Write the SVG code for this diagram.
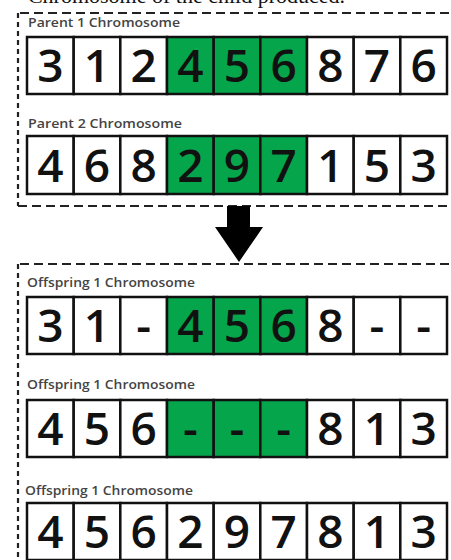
<svg xmlns="http://www.w3.org/2000/svg" width="451" height="560" viewBox="0 0 451 560">
<style>
.cell{fill:#fff;stroke:#111;stroke-width:2.5}
.g{fill:#05a64b}
.d{font-family:"Open Sans","Liberation Sans",sans-serif;font-size:46px;font-weight:600;fill:#111;text-anchor:middle}
.lbl{font-family:"Open Sans","Liberation Sans",sans-serif;font-size:12.5px;font-weight:600;fill:#444}
.dash{fill:none;stroke:#222;stroke-width:2.2}
</style>
<rect width="451" height="560" fill="#fff"/>
<text x="345" y="2.5" text-anchor="end" font-family="Liberation Serif, serif" font-size="22" fill="#111">Chromosome of the child produced.</text>
<g id="frames">
<path class="dash" d="M20 13 H451" stroke-dasharray="9,5"/>
<path class="dash" d="M18 13 V206" stroke-dasharray="5,4"/>
<path class="dash" d="M18 206 H451" stroke-dasharray="9,5"/>
<path class="dash" d="M20 264 H451" stroke-dasharray="9,5"/>
<path class="dash" d="M18 264 V560" stroke-dasharray="5,4"/>
</g>
<g id="connectors">
<polygon points="227,206 250,206 250,227 263,227 239,262 215,227 227,227" fill="#000"/>
</g>
<g id="parent1">
<text class="lbl" x="28" y="27" textLength="152" lengthAdjust="spacingAndGlyphs">Parent 1 Chromosome</text>
<rect class="cell" x="27" y="37" width="46.7" height="57"/>
<rect class="cell" x="73.7" y="37" width="46.7" height="57"/>
<rect class="cell" x="120.3" y="37" width="46.7" height="57"/>
<rect class="cell g" x="167" y="37" width="46.7" height="57"/>
<rect class="cell g" x="213.7" y="37" width="46.7" height="57"/>
<rect class="cell g" x="260.3" y="37" width="46.7" height="57"/>
<rect class="cell" x="307" y="37" width="46.7" height="57"/>
<rect class="cell" x="353.7" y="37" width="46.7" height="57"/>
<rect class="cell" x="400.3" y="37" width="46.7" height="57"/>
<text class="d" y="82"><tspan x="50.3">3</tspan><tspan x="97">1</tspan><tspan x="143.7">2</tspan><tspan x="190.3">4</tspan><tspan x="237">5</tspan><tspan x="283.7">6</tspan><tspan x="330.3">8</tspan><tspan x="377">7</tspan><tspan x="423.7">6</tspan></text>
</g>
<g id="parent2">
<text class="lbl" x="28" y="128" textLength="154" lengthAdjust="spacingAndGlyphs">Parent 2 Chromosome</text>
<rect class="cell" x="27" y="136" width="46.7" height="58"/>
<rect class="cell" x="73.7" y="136" width="46.7" height="58"/>
<rect class="cell" x="120.3" y="136" width="46.7" height="58"/>
<rect class="cell g" x="167" y="136" width="46.7" height="58"/>
<rect class="cell g" x="213.7" y="136" width="46.7" height="58"/>
<rect class="cell g" x="260.3" y="136" width="46.7" height="58"/>
<rect class="cell" x="307" y="136" width="46.7" height="58"/>
<rect class="cell" x="353.7" y="136" width="46.7" height="58"/>
<rect class="cell" x="400.3" y="136" width="46.7" height="58"/>
<text class="d" y="181.5"><tspan x="50.3">4</tspan><tspan x="97">6</tspan><tspan x="143.7">8</tspan><tspan x="190.3">2</tspan><tspan x="237">9</tspan><tspan x="283.7">7</tspan><tspan x="330.3">1</tspan><tspan x="377">5</tspan><tspan x="423.7">3</tspan></text>
</g>
<g id="offspring1">
<text class="lbl" x="27" y="287" textLength="168" lengthAdjust="spacingAndGlyphs">Offspring 1 Chromosome</text>
<rect class="cell" x="27" y="297" width="46.7" height="57"/>
<rect class="cell" x="73.7" y="297" width="46.7" height="57"/>
<rect class="cell" x="120.3" y="297" width="46.7" height="57"/>
<rect class="cell g" x="167" y="297" width="46.7" height="57"/>
<rect class="cell g" x="213.7" y="297" width="46.7" height="57"/>
<rect class="cell g" x="260.3" y="297" width="46.7" height="57"/>
<rect class="cell" x="307" y="297" width="46.7" height="57"/>
<rect class="cell" x="353.7" y="297" width="46.7" height="57"/>
<rect class="cell" x="400.3" y="297" width="46.7" height="57"/>
<text class="d" y="342"><tspan x="50.3">3</tspan><tspan x="97">1</tspan><tspan x="143.7">-</tspan><tspan x="190.3">4</tspan><tspan x="237">5</tspan><tspan x="283.7">6</tspan><tspan x="330.3">8</tspan><tspan x="377">-</tspan><tspan x="423.7">-</tspan></text>
</g>
<g id="offspring2">
<text class="lbl" x="27" y="389" textLength="168" lengthAdjust="spacingAndGlyphs">Offspring 1 Chromosome</text>
<rect class="cell" x="27" y="400" width="46.7" height="57"/>
<rect class="cell" x="73.7" y="400" width="46.7" height="57"/>
<rect class="cell" x="120.3" y="400" width="46.7" height="57"/>
<rect class="cell g" x="167" y="400" width="46.7" height="57"/>
<rect class="cell g" x="213.7" y="400" width="46.7" height="57"/>
<rect class="cell g" x="260.3" y="400" width="46.7" height="57"/>
<rect class="cell" x="307" y="400" width="46.7" height="57"/>
<rect class="cell" x="353.7" y="400" width="46.7" height="57"/>
<rect class="cell" x="400.3" y="400" width="46.7" height="57"/>
<text class="d" y="445"><tspan x="50.3">4</tspan><tspan x="97">5</tspan><tspan x="143.7">6</tspan><tspan x="190.3">-</tspan><tspan x="237">-</tspan><tspan x="283.7">-</tspan><tspan x="330.3">8</tspan><tspan x="377">1</tspan><tspan x="423.7">3</tspan></text>
</g>
<g id="offspring3">
<text class="lbl" x="25" y="495" textLength="168" lengthAdjust="spacingAndGlyphs">Offspring 1 Chromosome</text>
<rect class="cell" x="27" y="503" width="46.7" height="57"/>
<rect class="cell" x="73.7" y="503" width="46.7" height="57"/>
<rect class="cell" x="120.3" y="503" width="46.7" height="57"/>
<rect class="cell" x="167" y="503" width="46.7" height="57"/>
<rect class="cell" x="213.7" y="503" width="46.7" height="57"/>
<rect class="cell" x="260.3" y="503" width="46.7" height="57"/>
<rect class="cell" x="307" y="503" width="46.7" height="57"/>
<rect class="cell" x="353.7" y="503" width="46.7" height="57"/>
<rect class="cell" x="400.3" y="503" width="46.7" height="57"/>
<text class="d" y="548"><tspan x="50.3">4</tspan><tspan x="97">5</tspan><tspan x="143.7">6</tspan><tspan x="190.3">2</tspan><tspan x="237">9</tspan><tspan x="283.7">7</tspan><tspan x="330.3">8</tspan><tspan x="377">1</tspan><tspan x="423.7">3</tspan></text>
</g>
</svg>
